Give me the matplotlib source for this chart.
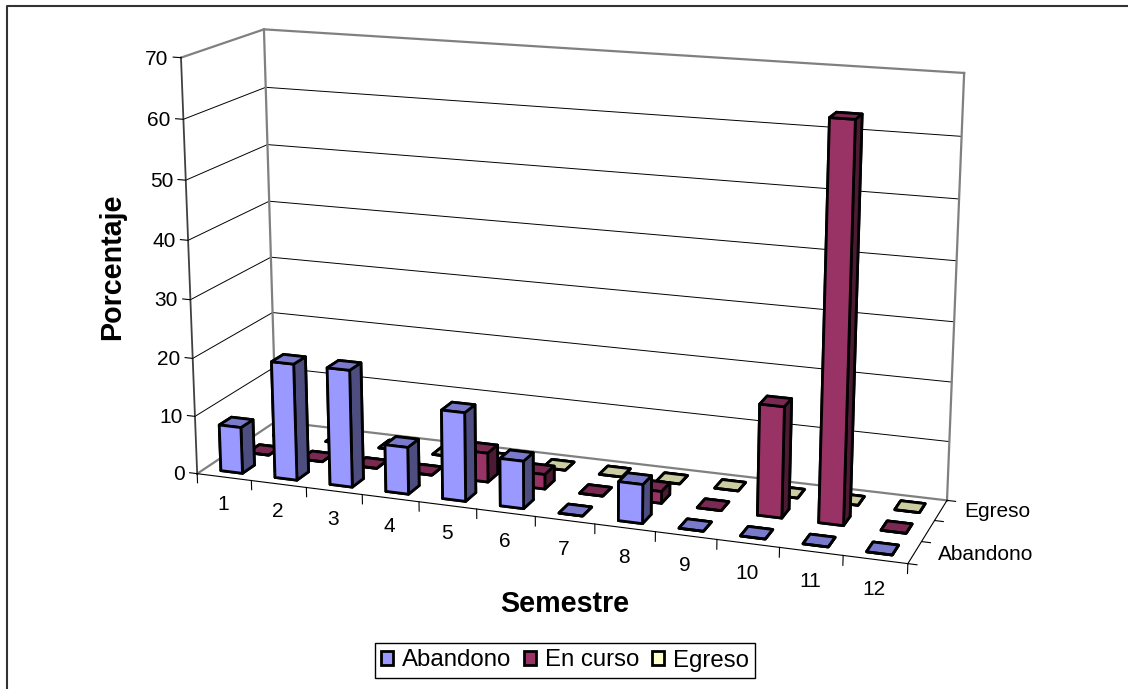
import numpy as np
import matplotlib
matplotlib.use("Agg")
import matplotlib.pyplot as plt
from matplotlib.lines import Line2D
from matplotlib.patches import Patch
from mpl_toolkits.mplot3d import proj3d

plt.rcParams["font.family"] = ["Liberation Sans", "DejaVu Sans"]

semestres = [1, 2, 3, 4, 5, 6, 7, 8, 9, 10, 11, 12]
abandono = [8, 20, 20, 8, 15, 8, 0, 6.5, 0, 0, 0, 0]
en_curso = [0, 0, 0, 0, 5, 2.5, 0, 2, 0, 18.5, 65, 0]
egreso = [0, 0, 0, 0, 0, 0, 0, 0, 0, 0, 0, 0]
z_ticks = [0, 10, 20, 30, 40, 50, 60, 70]

# front, top, side colours for each series (Excel shades the faces)
colors = {
    "Abandono": ("#9999FF", "#7A7ACC", "#4D4D80"),
    "En curso": ("#993366", "#7A2952", "#4D1A33"),
    "Egreso": ("#FFFFCC", "#CCCCA3", "#808066"),
}

# chart corners seen in the picture, (semester, series, value) -> pixel
corners_3d = [(0, 0, 0), (12, 0, 0), (0, 3, 0), (12, 3, 0), (0, 0, 70), (0, 3, 70), (12, 3, 70)]
corners_px = [(198, 473), (908, 564), (275, 422), (947, 500), (180, 58), (265, 29), (964, 73)]

# fit a pinhole camera to the corners
rows = []
for (X, Y, Z), (u, v) in zip(corners_3d, corners_px):
    rows.append([X, Y, Z, 1, 0, 0, 0, 0, -u * X, -u * Y, -u * Z, -u])
    rows.append([0, 0, 0, 0, X, Y, Z, 1, -v * X, -v * Y, -v * Z, -v])
cam = np.linalg.svd(np.array(rows, dtype=float))[2][-1].reshape(3, 4)
if cam[2, 3] < 0:
    cam = -cam
M = np.array([cam[0], cam[1], [0, 0, 0, -1.0], cam[2]])

fig = plt.figure(figsize=(11.28, 6.89), dpi=100)
ax = fig.add_axes([0, 0, 1, 1], projection="3d", computed_zorder=False)
ax.set_proj_type("ortho")  # only so Line3D does not clip to +-1, the matrix is ours
ax.get_proj = lambda: M
ax.apply_aspect = lambda position=None: None
# 2D view limits in pixels, so the camera above maps straight onto the picture
ax.viewLim.intervalx = (0, 1128)
ax.viewLim.intervaly = (689, 0)
ax.set_axis_off()
ax.patch.set_visible(False)


def label(x, y, z, s, **kwargs):
    px, py, _ = proj3d.proj_transform(x, y, z, M)
    ax.text2D(px, py, s, transform=ax.transData, va="center", fontsize=15, zorder=10, **kwargs)


grey = "#808080"
lw_wall = 1.6

# walls and floor
for a, b in [((0, 0, 70), (0, 3, 70)), ((0, 3, 70), (12, 3, 70)), ((12, 3, 70), (12, 3, 0)),
             ((0, 3, 0), (0, 3, 70)), ((0, 3, 0), (12, 3, 0)), ((0, 0, 0), (0, 3, 0))]:
    ax.plot(*zip(a, b), color=grey, lw=lw_wall, zorder=2)
ax.plot([0, 0], [0, 0], [0, 70], color="#404040", lw=1.3, zorder=3)
ax.plot([0, 12], [0, 0], [0, 0], color="black", lw=0.8, zorder=3)
ax.plot([12, 12], [0, 3], [0, 0], color="black", lw=0.8, zorder=3)

# gridlines
for z in z_ticks[1:-1]:
    ax.plot([0, 0, 12], [0, 3, 3], [z, z, z], color="black", lw=0.7, zorder=1)

# ticks
for z in z_ticks:
    ax.plot([-0.14, 0], [0, 0], [z, z], color="black", lw=0.8, zorder=3)
    label(-0.23, 0, z - 0.4, str(z), ha="right")
for x in range(13):
    ax.plot([x, x], [0, 0], [0, -1.6], color="black", lw=0.8, zorder=3)
for s in semestres:
    label(s - 0.48, -0.1, -4.5, str(s), ha="center")
for y in range(4):
    ax.plot([12, 12.14], [y, y], [0, 0], color="black", lw=0.8, zorder=3)
label(12.38, 2.5, 0.2, "Egreso", ha="left")
label(12.36, 0.5, 0.2, "Abandono", ha="left")

# bars, back row first
width = 0.4
depth = 0.45
series = [("Egreso", egreso, 2), ("En curso", en_curso, 1), ("Abandono", abandono, 0)]
order = 4
for name, values, row in series:
    front, top, side = colors[name]
    for i, val in enumerate(values):
        ax.bar3d(i + 0.5 - width / 2, row + 0.5 - depth / 2, 0, width, depth, val,
                 color=[top, top, front, front, side, side], shade=False,
                 edgecolor="black", linewidth=2, zorder=order)
        order += 1

fig.text(112, 689 - 267, "Porcentaje", transform=None, rotation=90, ha="center", va="center",
         fontsize=20.6, fontweight="bold")
fig.text(565, 689 - 604, "Semestre", transform=None, ha="center", va="center",
         fontsize=20.6, fontweight="bold")

handles = [Patch(facecolor=colors[n][0], edgecolor="black", linewidth=2) for n in colors]
fig.legend(handles, list(colors), ncol=3, loc="center", bbox_to_anchor=(565 / 1128, 1 - 660.5 / 689),
           fontsize=17.3, frameon=True, fancybox=False, edgecolor="black", framealpha=1,
           handlelength=0.5, handleheight=0.5, handletextpad=0.35, columnspacing=0.55,
           borderpad=0.28, borderaxespad=0)

# chart frame, cropped on the right and at the bottom
fig.add_artist(Line2D([7, 7, 1128], [0, 683.5, 683.5], transform=None, color="#333333", lw=1.5))

fig.savefig("out.png", dpi=100)
